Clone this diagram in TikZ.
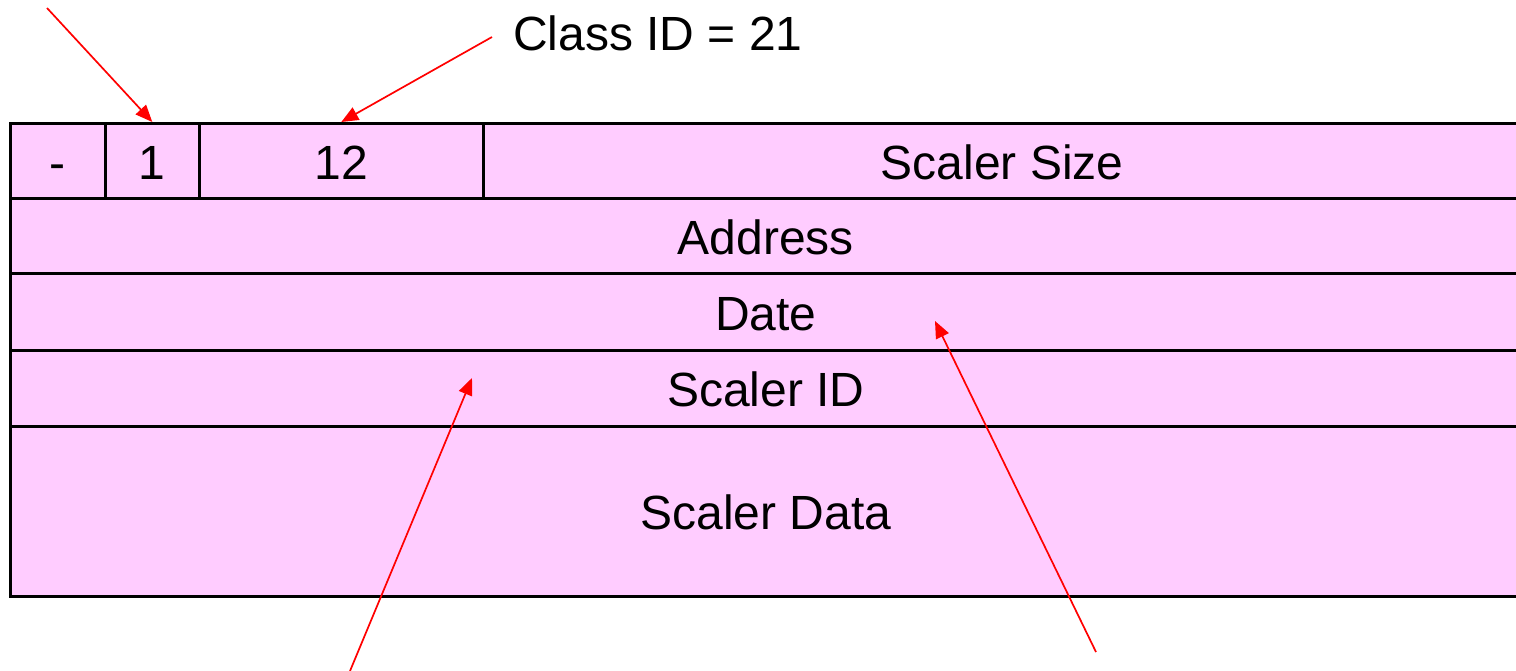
\documentclass[tikz,border=0pt]{standalone}
\usepackage{fontspec}
\setmainfont{Liberation Sans}
\usetikzlibrary{arrows.meta}
\definecolor{cellpink}{RGB}{255,204,255}
\begin{document}
\begin{tikzpicture}[x=1pt,y=-1pt,
  cell/.style={draw=black, fill=cellpink, line width=2.6pt, rectangle,
    inner sep=0pt, anchor=north west, text height=37pt, text depth=0pt,
    font=\fontsize{48}{57}\selectfont},
  pointer/.style={draw=red, line width=1.7pt,
    -{Triangle[length=17pt,width=14pt]}},
  label/.style={inner sep=0pt, font=\fontsize{48}{57}\selectfont}]
\useasboundingbox (0,0) rectangle (1516,671);
\clip (0,0) rectangle (1516,671);

% header row
\node[cell, minimum width=95pt,  minimum height=75pt] (cdash) at (9,122)   {-};
\node[cell, minimum width=94pt,  minimum height=75pt] (cone)  at (104,122) {1};
\node[cell, minimum width=284pt, minimum height=75pt] (ctwelve) at (198,122) {12};
\node[cell, minimum width=1038pt, minimum height=75pt] (csize) at (482,122) {Scaler Size};

% full-width rows
\node[cell, minimum width=1511pt, minimum height=75pt]  (raddr) at (9,197) {Address};
\node[cell, minimum width=1511pt, minimum height=77pt]  (rdate) at (9,272) {Date};
\node[cell, minimum width=1511pt, minimum height=76pt]  (rid)   at (9,349) {Scaler ID};
\node[cell, minimum width=1511pt, minimum height=170pt] (rdata) at (9,425) {Scaler Data};

% label
\node[label, anchor=west] (cls) at (513,33) {Class ID = 21};

% pointer ends
\coordinate (p1) at (47,8);
\coordinate (p2) at (492,37);
\coordinate (p3) at (350,671);
\coordinate (p4) at (1096,652);
\coordinate (t3) at (472,378);
\coordinate (t4) at (935,321);

\draw[pointer] (p1) -- (cone.north);
\draw[pointer] (p2) -- (ctwelve.north);
\draw[pointer] (p3) -- (t3);
\draw[pointer] (p4) -- (t4);
\end{tikzpicture}
\end{document}
